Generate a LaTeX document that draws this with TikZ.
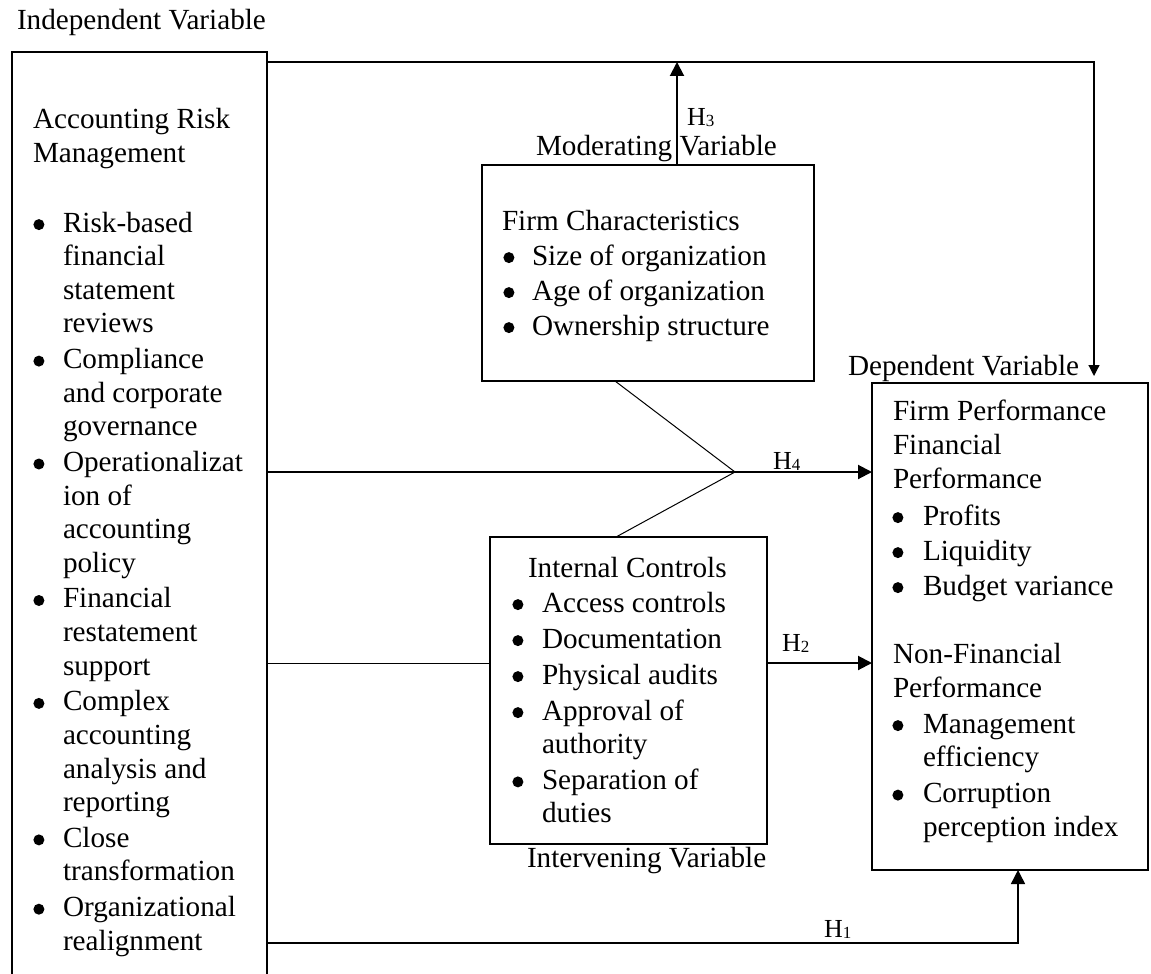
\documentclass[tikz,border=0pt]{standalone}
\usepackage{fontspec}
\setmainfont{Liberation Serif}
\usetikzlibrary{arrows.meta}
\newcommand\mybul[1]{\makebox[#1][l]{\hspace*{-0.6pt}\raisebox{1.9pt}{\tikz\fill[black] (0,0) circle (5.5pt);}}}
\newcommand\hyp[1]{H\raisebox{-1.5pt}{\fontsize{17}{17}\selectfont #1}}
\begin{document}
\begin{tikzpicture}[x=1pt,y=-1pt,
  box/.style={draw, line width=2pt, inner sep=0pt, outer sep=0pt, anchor=north west},
  txt/.style={anchor=base west, inner sep=0pt, outer sep=0pt, font=\fontsize{29.2}{33.6}\selectfont},
  hlab/.style={anchor=base west, inner sep=0pt, outer sep=0pt, font=\fontsize{26}{28}\selectfont},
  thinline/.style={line width=1pt},
  arr/.style={line width=2pt, -{Triangle[length=14pt,width=14pt]}},
]
\useasboundingbox (0,0) rectangle (1151,974);

% boxes
\node[box, minimum width=255pt, minimum height=940pt] (irm) at (12,52) {};
\node[box, minimum width=332pt, minimum height=216pt] (mod) at (482,165) {};
\node[box, minimum width=277pt, minimum height=307pt] (ic) at (490,537) {};
\node[box, minimum width=276pt, minimum height=487pt] (dep) at (872,383) {};

% helper coordinates
\coordinate (yTop) at (0,62);
\coordinate (xR) at (1094,0);
\coordinate (xH3) at (677,0);
\coordinate (meet) at (735,472);
\coordinate (xD) at (615,0);
\coordinate (yIC) at (0,663);
\coordinate (yH1) at (0,943);
\coordinate (xH1) at (1018,0);

% connectors
\draw[line width=1.2pt, -{Triangle[length=11pt,width=11pt]}] (irm.east |- yTop) -| ([yshift=7pt]dep.north -| xR);
\draw[arr] (mod.north -| xH3) -- (xH3 |- yTop);
\draw[thinline] (mod.south -| xD) -- (meet) -- ([xshift=1pt]ic.north -| xD);
\draw[arr] (irm.east |- meet) -- (dep.west |- meet);
\draw[thinline] (irm.east |- yIC) -- (ic.west |- yIC);
\draw[arr] (ic.east |- yIC) -- (dep.west |- yIC);
\draw[line width=1.5pt, -{Triangle[length=14pt,width=14pt]}] (irm.east |- yH1) -| (dep.south -| xH1);

% texts
\node[txt] (indep) at (17,30) {Independent Variable};
\node[txt, font=\fontsize{29.2}{35}\selectfont] (irmT) at (33,128)
  {\begin{tabular}[t]{@{}l@{}}Accounting Risk\\Management\end{tabular}};
\node[txt] (irmL) at (34,232) {\begin{tabular}[t]{@{}l@{}}
\mybul{29pt}Risk-based\\
\hspace*{29pt}financial\\
\hspace*{29pt}statement\\
\hspace*{29pt}reviews\\[2.1pt]
\mybul{29pt}Compliance\\
\hspace*{29pt}and corporate\\
\hspace*{29pt}governance\\[2.1pt]
\mybul{29pt}Operationalizat\\
\hspace*{29pt}ion of\\
\hspace*{29pt}accounting\\
\hspace*{29pt}policy\\[2.1pt]
\mybul{29pt}Financial\\
\hspace*{29pt}restatement\\
\hspace*{29pt}support\\[2.1pt]
\mybul{29pt}Complex\\
\hspace*{29pt}accounting\\
\hspace*{29pt}analysis and\\
\hspace*{29pt}reporting\\[2.1pt]
\mybul{29pt}Close\\
\hspace*{29pt}transformation\\[2.1pt]
\mybul{29pt}Organizational\\
\hspace*{29pt}realignment
\end{tabular}};

\node[txt] (modLab) at (536,155) {Moderating Variable};
\node[txt] (modT) at (502,230) {Firm Characteristics};
\node[txt, font=\fontsize{29.2}{35}\selectfont] (modL) at (504,265) {\begin{tabular}[t]{@{}l@{}}
\mybul{28pt}Size of organization\\
\mybul{28pt}Age of organization\\
\mybul{28pt}Ownership structure
\end{tabular}};

\node[txt] (icT) at (528,577) {Internal Controls};
\node[txt, font=\fontsize{29.2}{33.3}\selectfont] (icL) at (513,612) {\begin{tabular}[t]{@{}l@{}}
\mybul{29pt}Access controls\\[2.7pt]
\mybul{29pt}Documentation\\[2.7pt]
\mybul{29pt}Physical audits\\[2.7pt]
\mybul{29pt}Approval of\\
\hspace*{29pt}authority\\[2.7pt]
\mybul{29pt}Separation of\\
\hspace*{29pt}duties
\end{tabular}};
\node[txt] (icLab) at (527,867) {Intervening Variable};

\node[txt] (depLab) at (848,375) {Dependent Variable};
\node[txt, font=\fontsize{29.2}{34}\selectfont] (depT) at (893,420) {\begin{tabular}[t]{@{}l@{}}
Firm Performance\\
Financial\\
Performance
\end{tabular}};
\node[txt, font=\fontsize{29.2}{35}\selectfont] (depL1) at (893,525) {\begin{tabular}[t]{@{}l@{}}
\mybul{30pt}Profits\\
\mybul{30pt}Liquidity\\
\mybul{30pt}Budget variance
\end{tabular}};
\node[txt, font=\fontsize{29.2}{34}\selectfont] (depT2) at (893,663) {\begin{tabular}[t]{@{}l@{}}
Non-Financial\\
Performance
\end{tabular}};
\node[txt, font=\fontsize{29.2}{33.5}\selectfont] (depL2) at (893,733) {\begin{tabular}[t]{@{}l@{}}
\mybul{30pt}Management\\
\hspace*{30pt}efficiency\\[2.5pt]
\mybul{30pt}Corruption\\
\hspace*{30pt}perception index
\end{tabular}};

% hypothesis labels
\node[hlab] (h3) at (687,125) {\hyp{3}};
\node[hlab] (h4) at (773,469) {\hyp{4}};
\node[hlab] (h2) at (782,651) {\hyp{2}};
\node[hlab] (h1) at (824,937) {\hyp{1}};
\end{tikzpicture}
\end{document}
